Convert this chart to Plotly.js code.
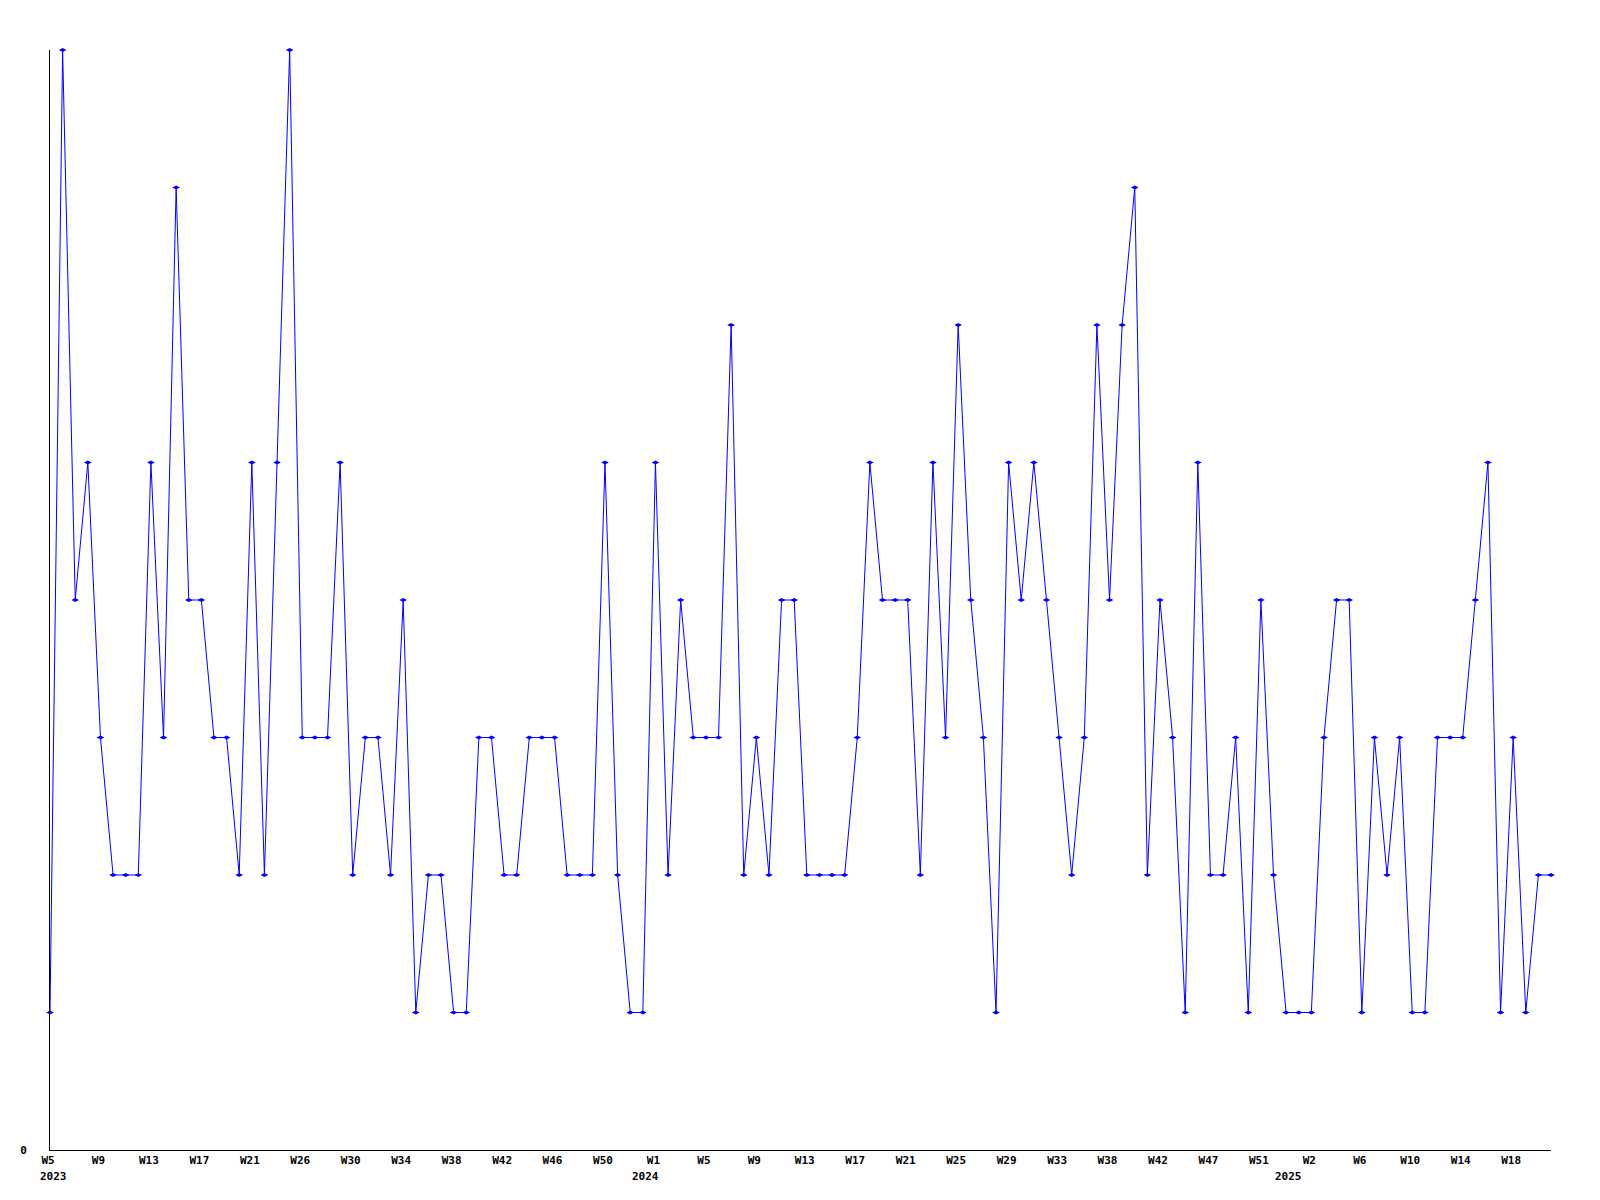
<!DOCTYPE html>
<html>
<head>
<meta charset="utf-8">
<script src="https://cdn.plot.ly/plotly-3.0.1.min.js"></script>
<style>
  html, body { margin: 0; padding: 0; background: #ffffff; }
  #chart { width: 1600px; height: 1200px; }
</style>
</head>
<body>
<div id="chart"></div>
<script>
// Weekly values, 2023 W5 through 2025 W20 (one value per week)
const values = [
  1,8,4,5,3,2,2,2,5,3,
  7,4,4,3,3,2,5,2,5,8,
  3,3,3,5,2,3,3,2,4,1,
  2,2,1,1,3,3,2,2,3,3,
  3,2,2,2,5,2,1,1,5,2,
  4,3,3,3,6,2,3,2,4,4,
  2,2,2,2,3,5,4,4,4,2,
  5,3,6,4,3,1,5,4,5,4,
  3,2,3,6,4,6,7,2,4,3,
  1,5,2,2,3,1,4,2,1,1,
  1,3,4,4,1,3,2,3,1,1,
  3,3,3,4,5,1,3,1,2,2
];

// Tick labels, one every 4 weekly points
const tickLabels = [
  "W5","W9","W13","W17","W21","W26","W30","W34","W38","W42","W46","W50",
  "W1","W5","W9","W13","W17","W21","W25","W29","W33","W38","W42","W47","W51",
  "W2","W6","W10","W14","W18"
];
const tickStep = 4;

// Year labels and the week index they sit under
const years = ["2023", "2024", "2025"];
const yearPos = [0.24, 47.2, 98.2];

const xIdx = values.map((v, i) => i);
const tickVals = tickLabels.map((t, k) => k * tickStep);

const labelFont = { family: "DejaVu Sans Mono", size: 11, color: "#000000", weight: "bold" };

const trace = {
  type: "scatter",
  mode: "lines+markers",
  x: xIdx,
  y: values,
  line: { color: "#0000ff", width: 1 },
  marker: { color: "#0000ff", size: 5.5, symbol: "diamond-wide" },
  cliponaxis: false,
  hoverinfo: "x+y"
};

const layout = {
  width: 1600,
  height: 1200,
  paper_bgcolor: "#ffffff",
  plot_bgcolor: "#ffffff",
  showlegend: false,
  margin: { l: 50, r: 49, t: 50, b: 50 },
  xaxis: {
    range: [0, values.length - 1],
    tickmode: "array",
    tickvals: tickVals,
    ticktext: tickLabels,
    ticks: "",
    showgrid: false,
    zeroline: false,
    showline: true,
    linecolor: "#000000",
    linewidth: 1,
    tickfont: labelFont,
    ticklabelstandoff: 0,
    ticklabelshift: -2
  },
  yaxis: {
    range: [0, 8],
    tickmode: "array",
    tickvals: [0],
    ticktext: ["0"],
    ticks: "",
    showgrid: false,
    zeroline: false,
    showline: true,
    linecolor: "#000000",
    linewidth: 1,
    tickfont: labelFont,
    ticklabelstandoff: 20
  },
  annotations: years.map((y, i) => ({
    text: y,
    x: yearPos[i],
    xref: "x",
    y: -0.0245,
    yref: "paper",
    xanchor: "center",
    yanchor: "middle",
    showarrow: false,
    font: labelFont
  }))
};

Plotly.newPlot("chart", [trace], layout, { displayModeBar: false, staticPlot: true });
</script>
</body>
</html>
